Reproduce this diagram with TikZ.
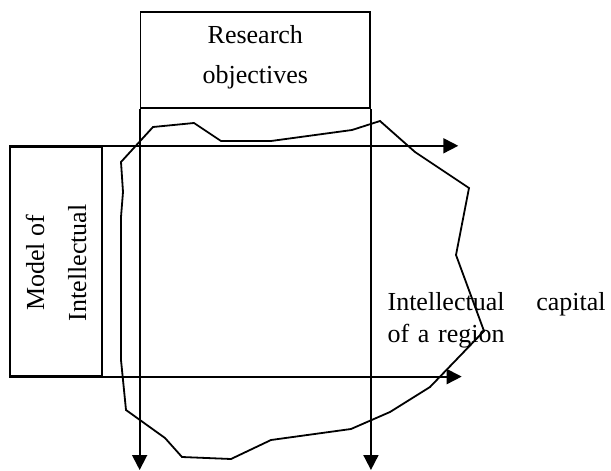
\documentclass[tikz,border=0pt]{standalone}
\usepackage{fontspec}
\setmainfont{Liberation Serif}
\usetikzlibrary{arrows.meta,positioning}
\tikzset{
    >={Triangle[length=7.5pt,width=7.5pt]},
    every picture/.style={line width=0.9pt},
    box/.style={draw,inner sep=0pt},
    label text/.style={inner sep=0pt,align=center,font=\fontsize{13pt}{21pt}\selectfont}
}

\begin{document}
\begin{tikzpicture}[x=0.5pt,y=-0.5pt]
    \useasboundingbox (0,0) rectangle (611,471);

    % Boxes
    \node[box,minimum width=114.75pt,minimum height=48.2pt] (res) at (255.3,60) {};
    \node[label text,font=\fontsize{13pt}{20.3pt}\selectfont,yshift=1.3pt] (restxt) at (res.center) {Research\\objectives};
    \node[box,minimum width=45.9pt,minimum height=114.5pt] (model) at (56,261.2) {};
    \node[label text,rotate=90,xshift=-0.8pt] (modeltxt) at (model.center) {Model of\\Intellectual};

    % Arrow ends
    \coordinate (bot) at (0,470);
    \coordinate (toptip) at (458.3,0);
    \coordinate (bottip) at (461.7,0);

    % Region outline
    \draw (121,162) -- (153,127) -- (194,123) -- (221,141) -- (271,141)
        -- (352,130) -- (380,121) -- (415,152) -- (469,188) -- (456,255)
        -- (484,331) -- (430,387) -- (390,412) -- (351,429) -- (271,440)
        -- (231,459) -- (182,457) -- (165,438) -- (126,410) -- (121,360)
        -- (121,217) -- (123,192) -- cycle;

    % Arrows
    \draw[->] (res.south west) -- (res.south west |- bot);
    \draw[->] (res.south east) -- (res.south east |- bot);
    \draw[->] (model.north west) -- (model.north west -| toptip);
    \draw[->] (model.south west) -- (model.south west -| bottip);

    \node[anchor=north west,inner sep=0pt,text width=109pt,align=left,
          font=\fontsize{13pt}{16.2pt}\selectfont] (region) at (386.7,291.5)
          {Intellectual\hfill capital\\of a region};
\end{tikzpicture}
\end{document}
